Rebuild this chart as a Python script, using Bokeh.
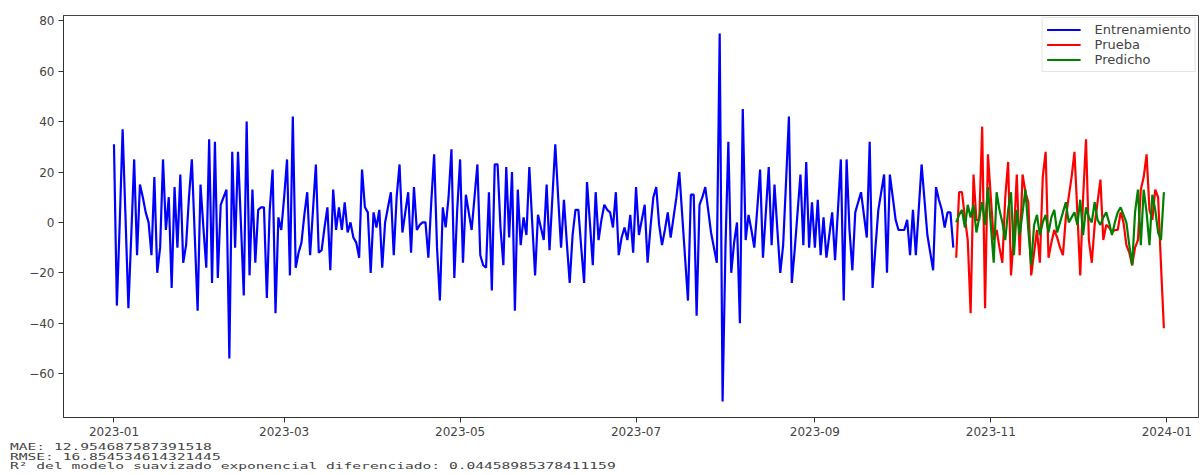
import pandas as pd
from bokeh.plotting import figure
from bokeh.models import Range1d, FixedTicker, DatetimeTickFormatter, Div
from bokeh.layouts import column
from bokeh.embed import file_html
from bokeh.resources import INLINE

# ---------------- data ----------------
start_date = "2023-01-01"

train_values = [
    31, -33, 0, 37, 2, -34, -5, 25, -13, 15,
    10, 4, 0, -13, 18, -20, -10, 25, -3, 10,
    -26, 14, -10, 19, -16, -9, 10, 25, -5, -35,
    15, -2, -18, 33, -24, 32, -22, 7, 10, 13,
    -54, 28, -10, 28, 0, -29, 40, -21, 13, -16,
    5, 6, 6, -30, 5, 21, -36, 2, -3, 10,
    25, -21, 42, -18, -12, -8, 3, 12, -13, 5,
    23, -12, -11, -2, 6, -19, 13, -3, 6, -3,
    8, -4, 0, -6, -8, -14, 21, 6, 4, -20,
    4, -2, 5, -18, 0, 6, 12, -13, 10, 23,
    -4, 4, 12, -12, 14, -3, -1, 0, 0, -14,
    8, 27, -10, -31, 6, -2, 10, 29, -22, 5,
    25, -16, 11, 4, -3, 10, 23, -13, -17, -18,
    12, -27, 23, 23, -2, -17, 22, -6, 20, -35,
    13, -9, 2, -5, 22, 0, -21, 3, -2, -7,
    15, -11, 10, 31, 10, -10, 9, -8, -24, -5,
    5, 5, -10, -24, 16, 0, -17, 12, -7, 1,
    7, 5, 4, -2, 12, -13, -6, -2, -7, 3,
    -12, 14, -5, 1, 7, -16, -2, 10, 14, -1,
    -9, -3, 4, -6, 2, 10, 20, 3, -14, -31,
    11, 11, -37, 7, 10, 14, 5, -4, -10, -16,
    75, -71, -10, 32, -20, -8, 0, -40, 45, -7,
    3, -3, -10, 5, 21, -14, 4, 22, -9, 15,
    -3, -20, -9, 16, 42, -24, -11, 4, 19, -9,
    24, -10, 8, -10, 9, -13, 2, -14, -5, 4,
    -15, 5, 25, -31, 25, -3, -19, 4, 8, 12,
    3, -6, 32, -26, -10, 5, 12, 19, -20, 19,
    10, 1, -3, -3, -3, 1, -13, 5, -13, 5,
    23, 9, -5, -12, -19, 14, 9, 5, -2, 4,
    4, -10,
]

test_values = [
    -14, 12, 12, 2, -7, -36, 19, 1, 1, 38,
    -34, 27, 10, -7, -3, -10, -16, 10, 24, -21,
    -5, 19, -13, 19, 12, 8, -21, -12, -3, -16,
    18, 28, -14, -8, -3, -6, -10, -13, 2, 10,
    18, 28, 4, -21, 10, 33, -7, -16, -1, 8,
    17, -7, -1, -2, -4, -3, -3, 4, 0, -9,
    -12, -17, -10, -7, 13, 18, 27, 5, 1, 13,
    10, -17, -42,
]

pred_values = [
    0, 3, 5, -2, 7, 2, 7, -4, 2, 8,
    -1, 14, -1, -16, 12, 5, 0, -7, 5, 12,
    -13, 5, -5, 4, 13, -3, -17, -1, 3, -5,
    0, 3, -4, 2, 5, -4, 0, 4, 8, 0,
    2, 4, -1, 9, -5, 6, 2, 0, 8, 1,
    -1, 2, 4, 0, -5, 0, 4, 6, 3, 0,
    -9, -17, 4, 13, -9, 13, 4, -9, 11, 5,
    -4, -7, 12,
]

x_tick_labels = ["2023-01", "2023-03", "2023-05", "2023-07", "2023-09", "2023-11", "2024-01"]
y_ticks = [-60, -40, -20, 0, 20, 40, 60, 80]

series_names = ["Entrenamiento", "Prueba", "Predicho"]

metric_lines = [
    "MAE: 12.954687587391518",
    "RMSE: 16.854534614321445",
    "R² del modelo suavizado exponencial diferenciado: 0.04458985378411159",
]

# ---------------- build ----------------
train_dates = pd.date_range(start_date, periods=len(train_values), freq="D")
test_dates = pd.date_range(train_dates[-1] + pd.Timedelta(days=1), periods=len(test_values), freq="D")
pred_dates = test_dates[: len(pred_values)]

t0 = pd.Timestamp(start_date)
p = figure(
    width=1200, height=441,
    x_axis_type="datetime",
    output_backend="svg", toolbar_location=None,
    x_range=Range1d(t0 - pd.Timedelta(days=17.5), t0 + pd.Timedelta(days=376)),
    y_range=Range1d(-77.4, 82.1),
    min_border_left=63, min_border_right=2, min_border_top=15, min_border_bottom=24,
)

p.line(train_dates, train_values, color="#0000ff", line_width=2.2, legend_label=series_names[0])
p.line(test_dates, test_values, color="#ff0000", line_width=2.2, legend_label=series_names[1])
p.line(pred_dates, pred_values, color="#008000", line_width=2.2, legend_label=series_names[2])

p.xgrid.visible = False
p.ygrid.visible = False
p.outline_line_color = "#444444"
p.outline_line_width = 1

tick_ms = [pd.Timestamp(t + "-01").timestamp() * 1000 for t in x_tick_labels]
p.xaxis.ticker = FixedTicker(ticks=tick_ms)
p.xaxis.formatter = DatetimeTickFormatter(days="%Y-%m", months="%Y-%m", years="%Y-%m")
p.yaxis.ticker = FixedTicker(ticks=y_ticks)
p.yaxis.major_label_overrides = {v: ("−" + str(abs(v)) if v < 0 else str(v)) for v in y_ticks}

for ax in (p.xaxis, p.yaxis):
    ax.major_label_text_font = "DejaVu Sans"
    ax.major_label_text_font_size = "12px"
    ax.major_label_text_color = "#444444"
    ax.major_tick_in = 0
    ax.major_tick_out = 5
    ax.minor_tick_line_color = None
    ax.axis_line_color = "#333333"
    ax.major_tick_line_color = "#333333"
    ax.major_label_standoff = 4

p.legend.location = "top_right"
p.legend.label_text_font = "DejaVu Sans"
p.legend.label_text_font_size = "13px"
p.legend.label_text_color = "#444444"
p.legend.label_height = 13
p.legend.glyph_height = 13
p.legend.glyph_width = 34
p.legend.label_standoff = 14
p.legend.spacing = 0
p.legend.padding = 4
p.legend.margin = 2
p.legend.border_line_color = "#cccccc"
p.legend.background_fill_alpha = 0.8

html = (
    "<div style=\"font-family:'DejaVu Sans Mono',monospace;font-size:9px;line-height:9.6px;"
    "color:#444444;transform:scaleX(1.62);transform-origin:0 0;white-space:nowrap\">"
    + "<br>".join(metric_lines)
    + "</div>"
)
metrics = Div(text=html, width=1200, height=30, margin=(2, 0, 0, 10))

layout = column(p, metrics, spacing=0)
open("out.html", "w").write(file_html(layout, INLINE))
